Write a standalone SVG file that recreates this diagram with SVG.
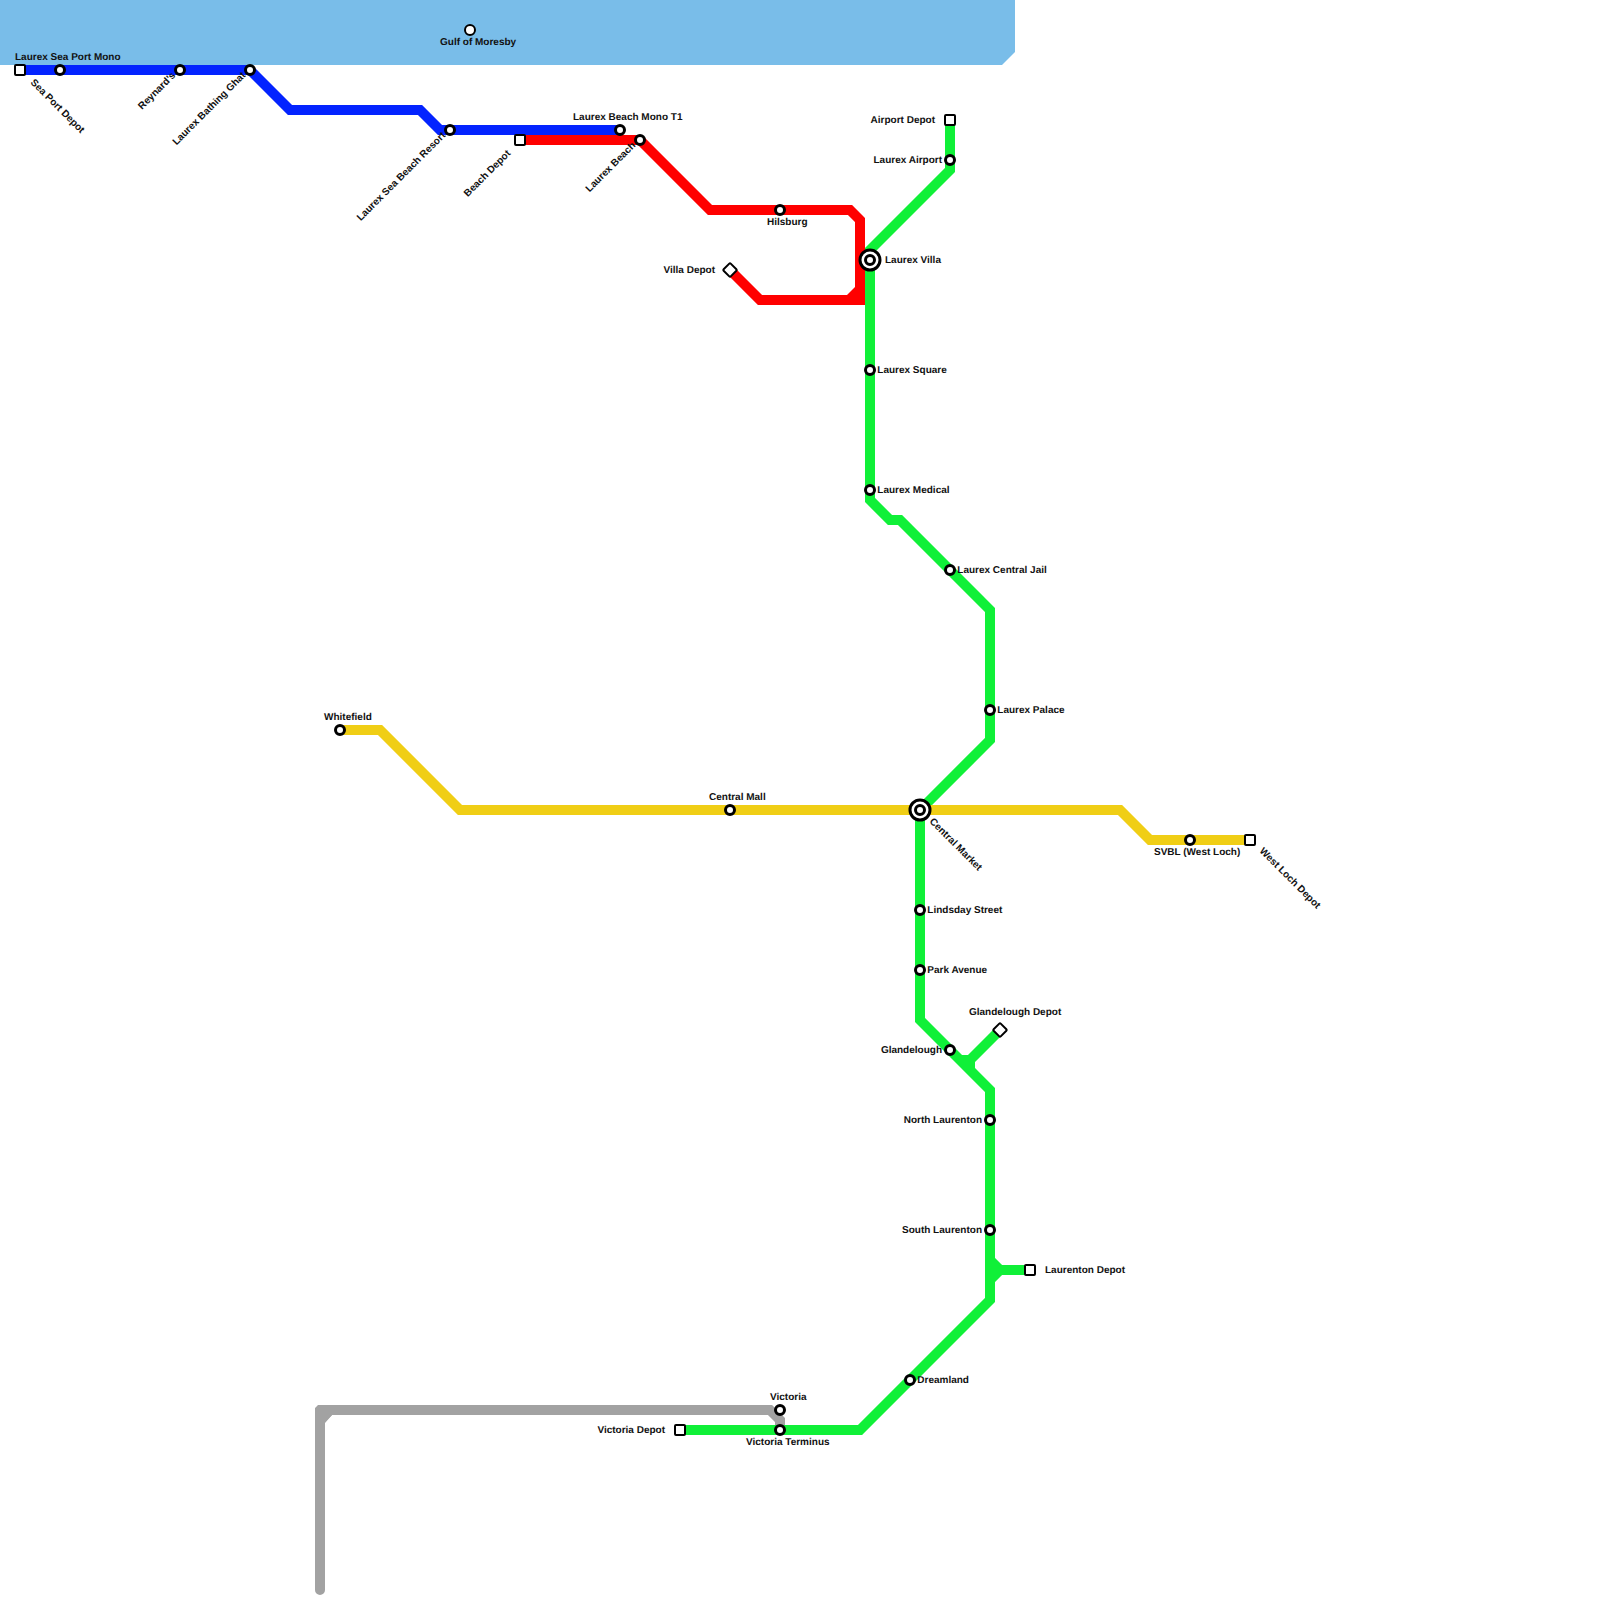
<svg xmlns="http://www.w3.org/2000/svg" width="1600" height="1600" viewBox="0 0 1600 1600">
<style>
.l{fill:none;stroke-width:10;stroke-linejoin:miter;stroke-miterlimit:2;stroke-linecap:butt}
.b{stroke:#0323ff}.r{stroke:#ff0000}.g{stroke:#10f038}.y{stroke:#f0ce15}.a{stroke:#a2a2a2}
.s{fill:#fff;stroke:#000;stroke-width:3}
.o{fill:#fff;stroke:#000;stroke-width:2}
.d{fill:#fff;stroke:#000;stroke-width:2}
text{font-family:"Liberation Sans",Arial,sans-serif;font-size:10px;font-weight:bold;fill:#111;text-rendering:geometricPrecision}
</style>
<defs>
<circle id="st" r="4.5" class="s"/>
<rect id="dep" x="-5" y="-5" width="10" height="10" rx="1" class="d"/>
<rect id="dia" x="-5" y="-5" width="10" height="10" rx="1" class="d" transform="rotate(45)"/>
<g id="hub"><circle r="10" class="s"/><circle r="4.5" class="s"/></g>
</defs>
<polygon id="sea" points="0,0 1015,0 1015,52 1002,65 0,65" fill="#79bde9"/>
<g id="connectors">
<path class="l a" d="M320,1590V1420L330,1410H770L780,1420V1430" style="stroke-linecap:round"/>
<path d="M315,1425V1408L318,1405H335V1415H332L325,1423V1425z" fill="#a2a2a2"/>
<path class="l b" d="M20,70H250L290,110H420L440,130H620"/>
<path class="l g" d="M950,120V170L870,250V500L890,520H900L990,610V740L920,810V1020L990,1090V1300L860,1430H680"/>
<path class="l g" d="M1000,1030L970,1060V1072M958,1060H972"/>
<path class="l g" d="M1030,1270H1000L990,1260V1280L1000,1270"/>
<path class="l r" d="M520,140H640L710,210H850L860,220V300H760L730,270"/>
<path d="M847,295L855,287H865V303L863,305H847z" fill="#ff0000"/>
<path class="l y" d="M340,730H380L460,810H1120L1150,840H1250"/>
</g>
<g id="n-sea-depot"><use href="#dep" x="20" y="70"/><text transform="translate(30,83) rotate(45)">Sea Port Depot</text></g>
<g id="n-sea-port"><use href="#st" x="60" y="70"/><text x="15" y="59.500">Laurex Sea Port Mono</text></g>
<g id="n-reynard"><use href="#st" x="180" y="70"/><text transform="translate(176,76) rotate(-45)" text-anchor="end">Reynard's</text></g>
<g id="n-ghat"><use href="#st" x="250" y="70"/><text transform="translate(246,76) rotate(-45)" text-anchor="end">Laurex Bathing Ghat</text></g>
<g id="n-resort"><use href="#st" x="450" y="130"/><text transform="translate(446,136) rotate(-45)" text-anchor="end">Laurex Sea Beach Resort</text></g>
<g id="n-beach-depot"><use href="#dep" x="520" y="140"/><text transform="translate(511,154) rotate(-45)" text-anchor="end">Beach Depot</text></g>
<g id="n-mono-t1"><use href="#st" x="620" y="130"/><text x="573" y="119.500">Laurex Beach Mono T1</text></g>
<g id="n-beach"><use href="#st" x="640" y="140"/><text transform="translate(636,146) rotate(-45)" text-anchor="end">Laurex Beach</text></g>
<g id="n-gulf"><circle cx="470" cy="30" r="5" class="o"/><text x="440" y="44.500">Gulf of Moresby</text></g>
<g id="n-hilsburg"><use href="#st" x="780" y="210"/><text x="767" y="224.500">Hilsburg</text></g>
<g id="n-villa-depot"><use href="#dia" x="730" y="270"/><text x="715" y="272.500" text-anchor="end">Villa Depot</text></g>
<g id="n-airport-depot"><use href="#dep" x="950" y="120"/><text x="935" y="122.500" text-anchor="end">Airport Depot</text></g>
<g id="n-airport"><use href="#st" x="950" y="160"/><text x="942" y="162.500" text-anchor="end">Laurex Airport</text></g>
<g id="n-villa"><use href="#hub" x="870" y="260"/><text x="885" y="262.500">Laurex Villa</text></g>
<g id="n-square"><use href="#st" x="870" y="370"/><text x="877.300" y="372.500">Laurex Square</text></g>
<g id="n-medical"><use href="#st" x="870" y="490"/><text x="877.300" y="492.500">Laurex Medical</text></g>
<g id="n-jail"><use href="#st" x="950" y="570"/><text x="957.300" y="572.500">Laurex Central Jail</text></g>
<g id="n-palace"><use href="#st" x="990" y="710"/><text x="997.300" y="712.500">Laurex Palace</text></g>
<g id="n-whitefield"><use href="#st" x="340" y="730"/><text x="324" y="719.500">Whitefield</text></g>
<g id="n-mall"><use href="#st" x="730" y="810"/><text x="709" y="799.500">Central Mall</text></g>
<g id="n-market"><use href="#hub" x="920" y="810"/><text transform="translate(929,822) rotate(45)">Central Market</text></g>
<g id="n-svbl"><use href="#st" x="1190" y="840"/><text x="1154" y="854.500">SVBL (West Loch)</text></g>
<g id="n-westloch"><use href="#dep" x="1250" y="840"/><text transform="translate(1259,851.500) rotate(45)">West Loch Depot</text></g>
<g id="n-lindsday"><use href="#st" x="920" y="910"/><text x="927.300" y="912.500">Lindsday Street</text></g>
<g id="n-park"><use href="#st" x="920" y="970"/><text x="927.300" y="972.500">Park Avenue</text></g>
<g id="n-glan-depot"><use href="#dia" x="1000" y="1030"/><text x="969" y="1014.500">Glandelough Depot</text></g>
<g id="n-glan"><use href="#st" x="950" y="1050"/><text x="942" y="1052.500" text-anchor="end">Glandelough</text></g>
<g id="n-north"><use href="#st" x="990" y="1120"/><text x="982" y="1122.500" text-anchor="end">North Laurenton</text></g>
<g id="n-south"><use href="#st" x="990" y="1230"/><text x="982" y="1232.500" text-anchor="end">South Laurenton</text></g>
<g id="n-laurenton-depot"><use href="#dep" x="1030" y="1270"/><text x="1045" y="1272.500">Laurenton Depot</text></g>
<g id="n-dreamland"><use href="#st" x="910" y="1380"/><text x="917.300" y="1382.500">Dreamland</text></g>
<g id="n-victoria"><use href="#st" x="780" y="1410"/><text x="770" y="1399.500">Victoria</text></g>
<g id="n-terminus"><use href="#st" x="780" y="1430"/><text x="746" y="1444.500">Victoria Terminus</text></g>
<g id="n-vic-depot"><use href="#dep" x="680" y="1430"/><text x="665" y="1432.500" text-anchor="end">Victoria Depot</text></g>
</svg>
